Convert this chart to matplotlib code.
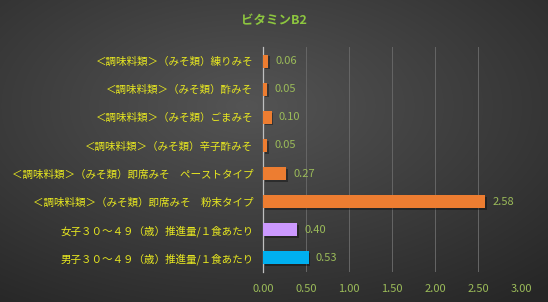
import matplotlib
matplotlib.use("Agg")
import matplotlib.pyplot as plt
import numpy as np

plt.rcParams['font.family'] = ['Noto Sans CJK JP', 'DejaVu Sans']

labels = [
    "＜調味料類＞（みそ類）練りみそ",
    "＜調味料類＞（みそ類）酢みそ",
    "＜調味料類＞（みそ類）ごまみそ",
    "＜調味料類＞（みそ類）辛子酢みそ",
    "＜調味料類＞（みそ類）即席みそ　ペーストタイプ",
    "＜調味料類＞（みそ類）即席みそ　粉末タイプ",
    "女子３０～４９（歳）推進量/１食あたり",
    "男子３０～４９（歳）推進量/１食あたり",
]
values = [0.06, 0.05, 0.10, 0.05, 0.27, 2.58, 0.40, 0.53]
colors = ["#ED7D31"] * 6 + ["#CC99FF", "#00B0F0"]
xticks = [0.0, 0.5, 1.0, 1.5, 2.0, 2.5, 3.0]

W, H = 548, 302
fig = plt.figure(figsize=(W / 100, H / 100), dpi=100)

# dark gradient background
bg = fig.add_axes([0, 0, 1, 1], zorder=-10)
yy, xx = np.mgrid[0:H, 0:W]
d = np.sqrt(((xx - W * 0.45) / W) ** 2 + ((yy - H * 0.35) / H) ** 2)
shade = np.clip(0.33 - 0.22 * d, 0.15, 0.33)
bg.imshow(np.dstack([shade, shade, shade]), aspect="auto", extent=[0, 1, 0, 1])
bg.axis("off")

ax = fig.add_axes([263 / W, 1 - 272 / H, (521.5 - 263) / W, (272 - 47) / H])
ax.patch.set_alpha(0)

y = np.arange(len(values))
# shadow
ax.barh(y + 0.06, values, height=0.46, left=0.02, color="black", alpha=0.35, zorder=2)
ax.barh(y, values, height=0.46, color=colors, zorder=3)
for yi, v in zip(y, values):
    ax.text(v + 0.08, yi, f"{v:.2f}", va="center", ha="left",
            color="#9BBB59", fontsize=8, zorder=4)

ax.set_xlim(0, 3.0)
ax.set_ylim(len(values) - 0.5, -0.5)
ax.set_xticks(xticks)
ax.set_xticklabels([f"{t:.2f}" for t in xticks], color="#9BBB59", fontsize=8)
ax.set_yticks(y)
ax.set_yticklabels(labels, color="#E8E820", fontsize=7.6)
ax.tick_params(axis="both", length=0, pad=7)
ax.tick_params(axis="x", pad=9)
ax.grid(axis="x", color="#666666", linewidth=0.7, zorder=0)
for s in ["top", "right", "bottom"]:
    ax.spines[s].set_visible(False)
ax.spines["left"].set_color("#bfbfbf")
ax.spines["left"].set_linewidth(0.9)

fig.text(0.5, 1 - 20 / H, "ビタミンB2", ha="center", va="center",
         color="#8DC63F", fontsize=9, fontweight="bold")

fig.savefig("out.png", dpi=100)
